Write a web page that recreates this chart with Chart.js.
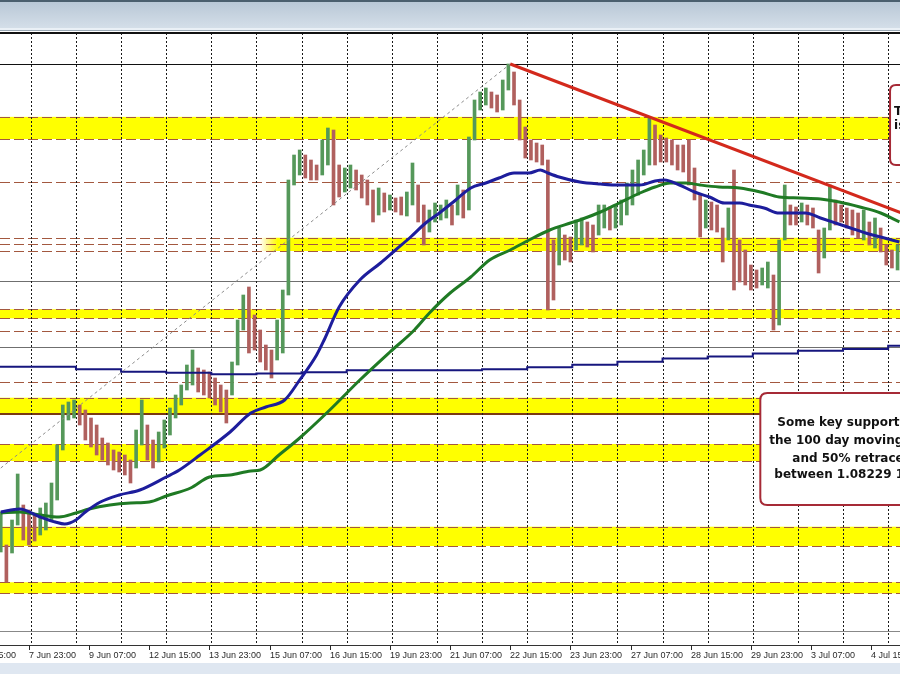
<!DOCTYPE html>
<html>
<head>
<meta charset="utf-8">
<title>EURUSD hourly</title>
<script src="https://cdn.jsdelivr.net/npm/chart.js@4.4.0/dist/chart.umd.min.js"></script>
<style>
  html, body { margin: 0; padding: 0; background: #fff; }
</style>
</head>
<body>
<canvas id="myChart" width="900" height="674"></canvas>
<script>
// x axis is counted in trading hours, 0 = 7 Jun 23:00
const xLabels = ['6 Jun 15:00', '7 Jun 23:00', '9 Jun 07:00', '12 Jun 15:00', '13 Jun 23:00', '15 Jun 07:00',
  '16 Jun 15:00', '19 Jun 23:00', '21 Jun 07:00', '22 Jun 15:00', '23 Jun 23:00', '27 Jun 07:00',
  '28 Jun 15:00', '29 Jun 23:00', '3 Jul 07:00', '4 Jul 15:00'];
const xLabelHours = [-32, 0, 32, 64, 96, 128, 160, 192, 224, 256, 288, 320, 352, 384, 416, 448];
const dayStartHours = [-23, 1, 25, 49, 73, 97, 121, 145, 169, 193, 217, 241, 265, 289, 313, 337, 361, 385, 409, 433, 457];

// 3 hour bars starting at hour -15
const barFirstHour = -15;
const barStepHours = 3;
const barHigh = [
  1.06984, 1.06753, 1.06928, 1.07250, 1.07033, 1.06998, 1.06963, 1.07012, 1.07047, 1.07187,
  1.07453, 1.07733, 1.07754, 1.07768, 1.07733, 1.07698, 1.07642, 1.07593, 1.07502, 1.07467,
  1.07418, 1.07404, 1.07383, 1.07348, 1.07558, 1.07768, 1.07593, 1.07488, 1.07544, 1.07628,
  1.07712, 1.07803, 1.07873, 1.08013, 1.08118, 1.07992, 1.07978, 1.07964, 1.07922, 1.07873,
  1.07838, 1.08034, 1.08328, 1.08503, 1.08559, 1.08363, 1.08258, 1.08153, 1.08118, 1.08328,
  1.08538, 1.09308, 1.09483, 1.09518, 1.09483, 1.09448, 1.09413, 1.09588, 1.09672, 1.09658,
  1.09413, 1.09392, 1.09413, 1.09378, 1.09343, 1.09308, 1.09238, 1.09252, 1.09217, 1.09203,
  1.09182, 1.09189, 1.09224, 1.09427, 1.09273, 1.09133, 1.09098, 1.09147, 1.09133, 1.09168,
  1.09133, 1.09273, 1.09238, 1.09609, 1.09868, 1.09924, 1.09952, 1.09924, 1.09903, 1.10008,
  1.10120, 1.10064, 1.09868, 1.09679, 1.09588, 1.09567, 1.09553, 1.09448, 1.08888, 1.08972,
  1.08923, 1.08909, 1.09028, 1.09042, 1.09014, 1.08993, 1.09133, 1.09133, 1.09119, 1.09133,
  1.09168, 1.09287, 1.09378, 1.09448, 1.09518, 1.09742, 1.09693, 1.09623, 1.09602, 1.09588,
  1.09553, 1.09553, 1.09588, 1.09392, 1.09203, 1.09168, 1.09154, 1.09133, 1.08972, 1.09112,
  1.09378, 1.08888, 1.08818, 1.08713, 1.08678, 1.08692, 1.08734, 1.08643, 1.08888, 1.09273,
  1.09133, 1.09119, 1.09147, 1.09133, 1.09112, 1.08958, 1.08972, 1.09273, 1.09168, 1.09133,
  1.09112, 1.09098, 1.09077, 1.09098, 1.09014, 1.09042, 1.08972, 1.08853, 1.08818, 1.08853
];
const barLow = [
  1.06704, 1.06494, 1.06697, 1.06893, 1.06788, 1.06753, 1.06781, 1.06823, 1.06858, 1.06928,
  1.07068, 1.07418, 1.07628, 1.07642, 1.07593, 1.07488, 1.07439, 1.07383, 1.07348, 1.07313,
  1.07278, 1.07264, 1.07243, 1.07187, 1.07292, 1.07453, 1.07348, 1.07292, 1.07334, 1.07432,
  1.07523, 1.07642, 1.07733, 1.07838, 1.07873, 1.07824, 1.07803, 1.07782, 1.07733, 1.07684,
  1.07607, 1.07803, 1.08013, 1.08258, 1.08097, 1.08118, 1.08034, 1.07978, 1.07922, 1.08048,
  1.08097, 1.08503, 1.09273, 1.09343, 1.09322, 1.09308, 1.09308, 1.09343, 1.09413, 1.09133,
  1.09189, 1.09224, 1.09252, 1.09238, 1.09182, 1.09133, 1.09014, 1.09063, 1.09084, 1.09098,
  1.09084, 1.09063, 1.09056, 1.09133, 1.09014, 1.08853, 1.08944, 1.09014, 1.09028, 1.09042,
  1.08993, 1.09063, 1.09042, 1.09098, 1.09588, 1.09798, 1.09833, 1.09812, 1.09784, 1.09798,
  1.09938, 1.09833, 1.09588, 1.09462, 1.09448, 1.09434, 1.09413, 1.08398, 1.08468, 1.08713,
  1.08748, 1.08734, 1.08818, 1.08853, 1.08839, 1.08804, 1.08923, 1.08972, 1.08958, 1.08972,
  1.08993, 1.09063, 1.09133, 1.09203, 1.09343, 1.09413, 1.09413, 1.09434, 1.09434, 1.09413,
  1.09378, 1.09364, 1.09273, 1.09168, 1.08909, 1.08972, 1.08958, 1.08944, 1.08734, 1.08888,
  1.08538, 1.08594, 1.08573, 1.08538, 1.08552, 1.08573, 1.08552, 1.08258, 1.08293, 1.08888,
  1.08993, 1.08993, 1.09014, 1.08993, 1.08972, 1.08657, 1.08762, 1.08958, 1.08993, 1.09014,
  1.08972, 1.08923, 1.08902, 1.08888, 1.08853, 1.08832, 1.08804, 1.08713, 1.08692, 1.08678
];

// 100 hour MA (blue)
const ma100Hours = [-15, -5, 6, 14, 19, 25, 30, 38, 48, 59, 73, 80, 91, 107, 118, 126, 136, 144, 153, 157, 165,
  176, 187, 195, 203, 211, 219, 227, 235, 243, 250, 258, 266, 272, 276, 282, 293, 304, 314, 325, 333, 338,
  346, 354, 362, 370, 378, 383, 391, 399, 413, 421, 429, 437, 445, 453, 463];
const ma100 = [1.06984, 1.07005, 1.06949, 1.06914, 1.06900, 1.06928, 1.06984, 1.07054, 1.07103, 1.07138, 1.07229,
  1.07278, 1.07383, 1.07544, 1.07677, 1.07719, 1.07768, 1.07908, 1.08083, 1.08188, 1.08419, 1.08608, 1.08727,
  1.08818, 1.08909, 1.09007, 1.09084, 1.09168, 1.09252, 1.09287, 1.09322, 1.09357, 1.09357, 1.09378, 1.09357,
  1.09329, 1.09294, 1.09280, 1.09273, 1.09273, 1.09301, 1.09308, 1.09273, 1.09224, 1.09189, 1.09147, 1.09147,
  1.09133, 1.09112, 1.09077, 1.09077, 1.09042, 1.09007, 1.08972, 1.08937, 1.08909, 1.08874];

// 200 hour MA (green)
const ma200Hours = [-15, -5, 6, 16, 25, 32, 43, 54, 64, 73, 86, 96, 107, 118, 123, 133, 144, 160, 176, 192, 205,
  213, 224, 235, 245, 256, 266, 277, 288, 293, 304, 314, 325, 333, 341, 349, 357, 367, 378, 389, 399, 410,
  421, 431, 442, 453, 463];
const ma200 = [1.06977, 1.06984, 1.06963, 1.06949, 1.06977, 1.07005, 1.07033, 1.07047, 1.07054, 1.07096, 1.07152,
  1.07229, 1.07243, 1.07271, 1.07278, 1.07383, 1.07502, 1.07698, 1.07908, 1.08104, 1.08258, 1.08377, 1.08517,
  1.08629, 1.08748, 1.08818, 1.08888, 1.08958, 1.09007, 1.09028, 1.09084, 1.09147, 1.09217, 1.09259, 1.09287,
  1.09287, 1.09273, 1.09259, 1.09252, 1.09224, 1.09189, 1.09182, 1.09175, 1.09154, 1.09119, 1.09077, 1.09014];

// daily moving average, one value per day in dayStartHours
const dailyMa = [1.08001, 1.08001, 1.07983, 1.07966, 1.07959, 1.07948, 1.07953, 1.07962, 1.07976, 1.07976,
  1.07976, 1.07983, 1.07997, 1.08014, 1.08035, 1.08058, 1.08072, 1.08093, 1.08113, 1.08125, 1.08148];

// yellow zones
const zoneTop = [1.09750, 1.08904, 1.08403, 1.07784, 1.07460, 1.06881, 1.06492];
const zoneBottom = [1.09595, 1.08811, 1.08340, 1.07668, 1.07341, 1.06746, 1.06415];
const zoneStart = [-20, 128, -20, -20, -20, -20, -20];

const dashedLevels = [1.09750, 1.09595, 1.09296, 1.08904, 1.08858, 1.08811, 1.08403, 1.08340, 1.08253,
  1.07896, 1.07784, 1.07460, 1.07341, 1.06881, 1.06746, 1.06492, 1.06415];
const grayLevels = [1.08603, 1.08137];
const highLevel = 1.10120;
const boldLevel = 1.07668;

// trend line off the high and the dotted line from the low
const trendHours = [256, 480];
const trendPrices = [1.10120, 1.08997];
const fibHours = [-15, 256];
const fibPrices = [1.07292, 1.10120];

const priceMin = 1.06053;
const priceMax = 1.10337;

// build chart data
const bars = [];
const barColors = [];
for (let i = 0; i < barHigh.length; i++) {
  bars.push({ x: barFirstHour + i * barStepHours, y: [barLow[i], barHigh[i]] });
  const mid = barHigh[i] + barLow[i];
  const prevMid = i > 0 ? barHigh[i - 1] + barLow[i - 1] : mid;
  barColors.push(mid >= prevMid ? '#55985a' : '#b0605e');
}
const toPoints = (xs, ys) => xs.map((h, i) => ({ x: h, y: ys[i] }));
const dailyPoints = toPoints(dayStartHours, dailyMa);
dailyPoints.push({ x: 470, y: dailyMa[dailyMa.length - 1] });

const box1Text = ['Topside trend line', 'is the key'];
const box2Text = ['Some key support at', 'the 100 day moving average', 'and 50% retracement', 'between 1.08229 1.08366'];

function roundBox(ctx, x0, y0, x1, y1, r) {
  ctx.beginPath();
  ctx.moveTo(x0 + r, y0);
  ctx.lineTo(x1 - r, y0);
  ctx.quadraticCurveTo(x1, y0, x1, y0 + r);
  ctx.lineTo(x1, y1 - r);
  ctx.quadraticCurveTo(x1, y1, x1 - r, y1);
  ctx.lineTo(x0 + r, y1);
  ctx.quadraticCurveTo(x0, y1, x0, y1 - r);
  ctx.lineTo(x0, y0 + r);
  ctx.quadraticCurveTo(x0, y0, x0 + r, y0);
  ctx.closePath();
}

const decor = {
  id: 'decor',
  beforeDatasetsDraw(chart) {
    const { ctx, chartArea: a, scales: { x, y } } = chart;
    ctx.save();
    // yellow zones
    for (let i = 0; i < zoneTop.length; i++) {
      const x0 = Math.max(a.left, x.getPixelForValue(zoneStart[i]));
      const y0 = y.getPixelForValue(zoneTop[i]);
      const y1 = y.getPixelForValue(zoneBottom[i]);
      if (x0 > a.left) {
        const g = ctx.createLinearGradient(x0 - 10, 0, x0 + 8, 0);
        g.addColorStop(0, 'rgba(255,230,0,0)');
        g.addColorStop(1, '#ffff00');
        ctx.fillStyle = g;
        ctx.fillRect(x0 - 10, y0, a.right - x0 + 10, y1 - y0);
      } else {
        ctx.fillStyle = '#ffff00';
        ctx.fillRect(x0, y0, a.right - x0, y1 - y0);
      }
    }
    // horizontal levels
    ctx.lineWidth = 1;
    ctx.setLineDash([10, 4]);
    ctx.strokeStyle = '#a3583f';
    dashedLevels.forEach(p => {
      const py = Math.round(y.getPixelForValue(p)) + 0.5;
      ctx.beginPath(); ctx.moveTo(a.left, py); ctx.lineTo(a.right, py); ctx.stroke();
    });
    ctx.setLineDash([]);
    ctx.strokeStyle = '#6f6f6f';
    grayLevels.forEach(p => {
      const py = Math.round(y.getPixelForValue(p)) + 0.5;
      ctx.beginPath(); ctx.moveTo(a.left, py); ctx.lineTo(a.right, py); ctx.stroke();
    });
    ctx.strokeStyle = '#111';
    let py = Math.round(y.getPixelForValue(highLevel)) + 0.5;
    ctx.beginPath(); ctx.moveTo(a.left, py); ctx.lineTo(a.right, py); ctx.stroke();
    ctx.strokeStyle = '#7a3a12';
    ctx.lineWidth = 2;
    py = Math.round(y.getPixelForValue(boldLevel));
    ctx.beginPath(); ctx.moveTo(a.left, py); ctx.lineTo(a.right, py); ctx.stroke();
    // day separators
    ctx.lineWidth = 1;
    ctx.setLineDash([2, 2]);
    ctx.strokeStyle = '#1a1a1a';
    dayStartHours.forEach(h => {
      const px = Math.round(x.getPixelForValue(h)) + 0.5;
      if (px < a.left || px > a.right) return;
      ctx.beginPath(); ctx.moveTo(px, a.top); ctx.lineTo(px, a.bottom); ctx.stroke();
    });
    ctx.restore();
  },
  afterDatasetsDraw(chart) {
    const { ctx, chartArea: a, scales: { x, y } } = chart;
    ctx.save();
    // box at the top right
    let x0 = x.getPixelForValue(458);
    let y0 = y.getPixelForValue(1.09973);
    let y1 = y.getPixelForValue(1.09413);
    roundBox(ctx, x0, y0, a.right + 40, y1, 6);
    ctx.fillStyle = '#fff';
    ctx.fill();
    ctx.strokeStyle = '#a62a36';
    ctx.lineWidth = 2;
    ctx.stroke();
    ctx.fillStyle = '#111';
    ctx.font = 'bold 12px "DejaVu Sans"';
    ctx.textBaseline = 'middle';
    ctx.textAlign = 'left';
    ctx.fillText(box1Text[0], x0 + 4, y0 + 27);
    ctx.fillText(box1Text[1], x0 + 4, y0 + 41);
    // support box
    x0 = x.getPixelForValue(389);
    y0 = y.getPixelForValue(1.07817);
    y1 = y.getPixelForValue(1.07033);
    roundBox(ctx, x0, y0, a.right + 40, y1, 7);
    ctx.fillStyle = '#fff';
    ctx.fill();
    ctx.stroke();
    ctx.fillStyle = '#111';
    const offX = [17, 9, 32, 14];
    const offY = [30, 48, 66, 82];
    box2Text.forEach((t, i) => ctx.fillText(t, x0 + offX[i], y0 + offY[i]));
    ctx.restore();
  },
  afterDraw(chart) {
    const { ctx, chartArea: a, scales: { x } } = chart;
    const W = chart.width;
    ctx.save();
    // window title strip
    const g = ctx.createLinearGradient(0, 0, 0, 30);
    g.addColorStop(0, '#b7c6d5');
    g.addColorStop(1, '#d6e0ea');
    ctx.fillStyle = g;
    ctx.fillRect(0, 0, W, 30);
    ctx.fillStyle = '#4b5f6e';
    ctx.fillRect(0, 0, W, 2);
    ctx.fillStyle = '#eaf0f6';
    ctx.fillRect(0, 28, W, 2);
    ctx.fillStyle = '#9aa8b4';
    ctx.fillRect(0, 30, W, 1);
    // frame
    ctx.fillStyle = '#111';
    ctx.fillRect(0, a.top - 1, W, 2);
    ctx.fillStyle = '#888';
    ctx.fillRect(0, a.bottom - 14, W, 1);
    ctx.fillStyle = '#333';
    ctx.fillRect(0, a.bottom, W, 1);
    // time labels
    ctx.font = '9px "Liberation Sans"';
    ctx.fillStyle = '#2a2a2a';
    ctx.textBaseline = 'middle';
    ctx.textAlign = 'left';
    xLabelHours.forEach((h, i) => {
      const px = Math.round(x.getPixelForValue(h));
      ctx.fillRect(px, a.bottom, 1, 5);
      ctx.fillText(xLabels[i], px, a.bottom + 11);
    });
    ctx.fillStyle = '#dfe7f1';
    ctx.fillRect(0, a.bottom + 18, W, chart.height - a.bottom - 18);
    ctx.restore();
  }
};

const ctx = document.getElementById('myChart').getContext('2d');
const myChart = new Chart(ctx, {
  type: 'bar',
  data: {
    datasets: [
      {
        label: 'Trend line',
        type: 'line',
        data: toPoints(trendHours, trendPrices),
        borderColor: '#d3291c',
        borderWidth: 3,
        pointRadius: 0,
        order: 0
      },
      {
        label: 'Swing',
        type: 'line',
        data: toPoints(fibHours, fibPrices),
        borderColor: '#8c8c8c',
        borderWidth: 1,
        borderDash: [3, 3],
        pointRadius: 0,
        order: 1
      },
      {
        label: '100 hour MA',
        type: 'line',
        data: toPoints(ma100Hours, ma100),
        borderColor: '#1d1d9c',
        borderWidth: 3,
        pointRadius: 0,
        cubicInterpolationMode: 'monotone',
        order: 2
      },
      {
        label: '200 hour MA',
        type: 'line',
        data: toPoints(ma200Hours, ma200),
        borderColor: '#1f7a24',
        borderWidth: 3,
        pointRadius: 0,
        cubicInterpolationMode: 'monotone',
        order: 3
      },
      {
        label: 'Daily MA',
        type: 'line',
        data: dailyPoints,
        borderColor: '#16167e',
        borderWidth: 2,
        pointRadius: 0,
        stepped: true,
        order: 4
      },
      {
        label: 'EURUSD',
        data: bars,
        backgroundColor: barColors,
        barThickness: 3,
        grouped: false,
        order: 5
      }
    ]
  },
  options: {
    responsive: false,
    animation: false,
    layout: { padding: { top: 33, bottom: 29, left: 0, right: 0 } },
    plugins: { legend: { display: false }, tooltip: { enabled: false } },
    scales: {
      x: { type: 'linear', display: false, offset: false, min: -15.4, max: 463.3 },
      y: { display: false, min: priceMin, max: priceMax }
    }
  },
  plugins: [decor]
});
</script>
</body>
</html>
